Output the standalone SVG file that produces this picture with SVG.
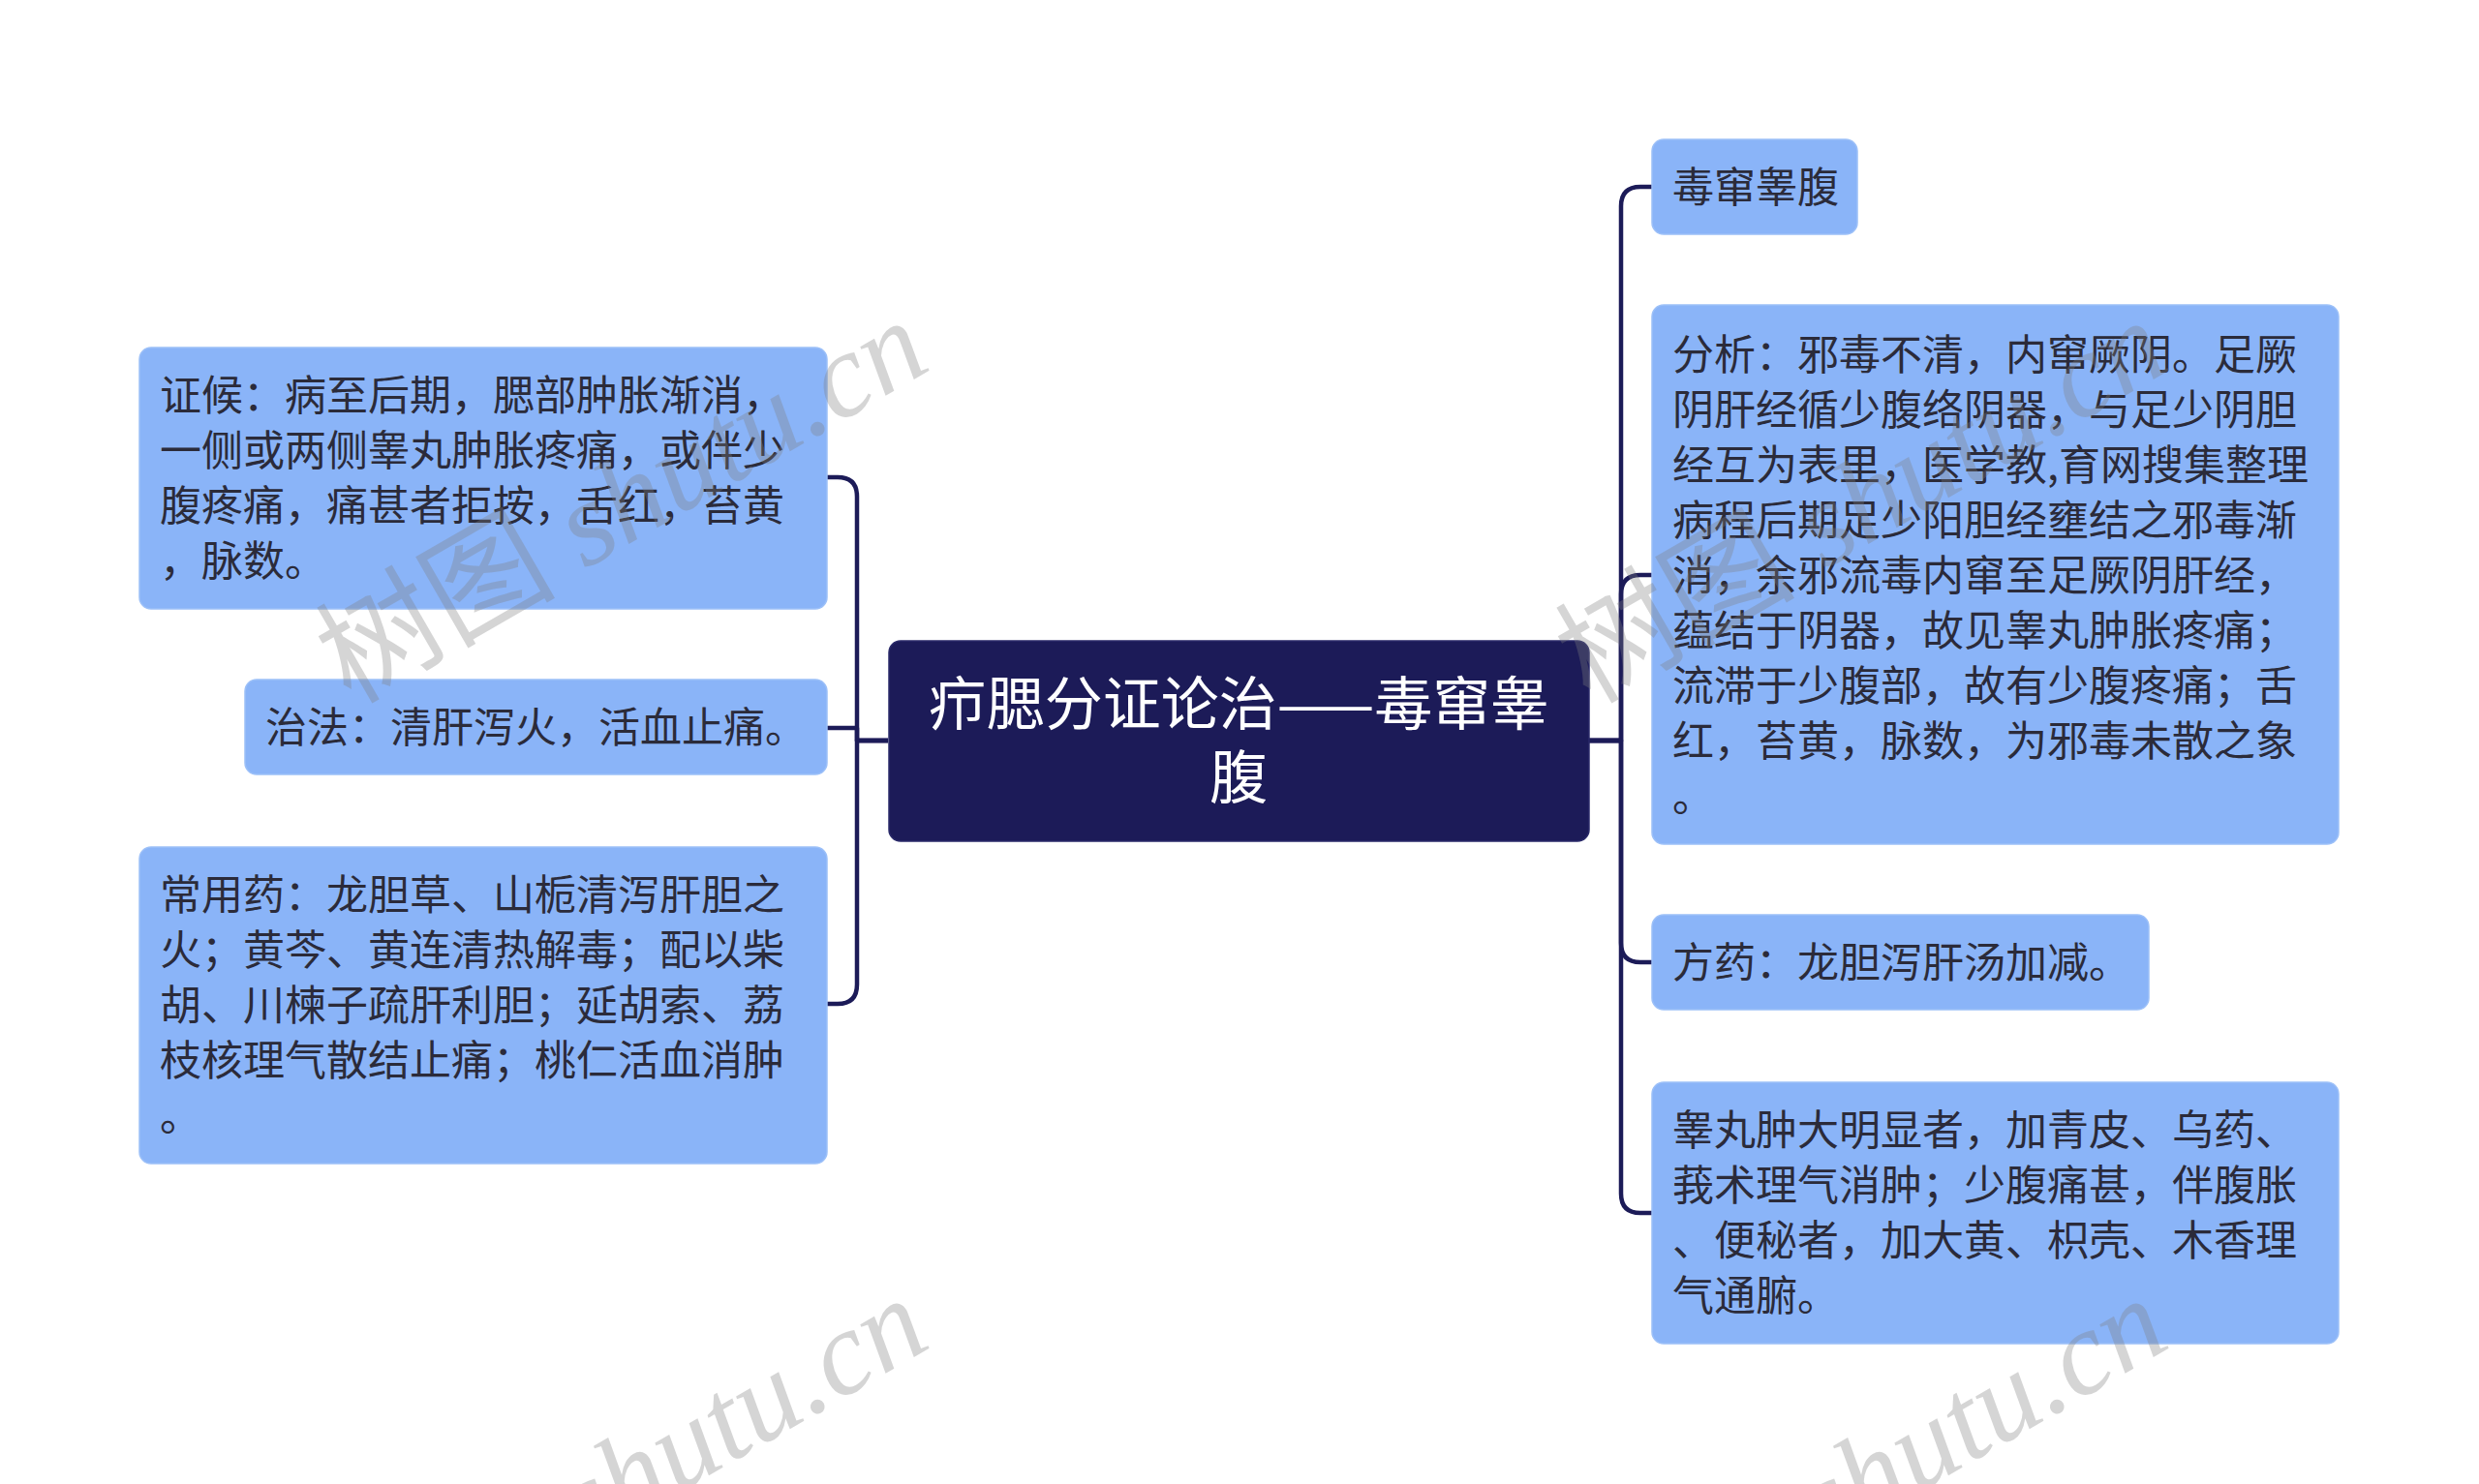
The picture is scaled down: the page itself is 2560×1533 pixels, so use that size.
<svg xmlns="http://www.w3.org/2000/svg" width="2560" height="1533" viewBox="0 0 2560 1533">
<defs>
<style>
.bg{fill:#ffffff}
.node rect{fill:#8ab4f8;stroke:#9cc0f8;stroke-width:1.5}
.node text{font-family:"Noto Sans CJK SC","Noto Sans",sans-serif;font-size:43px;fill:#2b2b3a}
.root rect{fill:#1c1b58;stroke:#2a2a6a;stroke-width:1.5}
.root text{font-family:"Noto Sans CJK SC","Noto Sans",sans-serif;font-size:60px;fill:#ffffff;text-anchor:middle}
.conn path{fill:none;stroke:#1c1b58;stroke-width:4.5;stroke-linejoin:round}
.wm{font-family:"Liberation Serif","Noto Sans CJK SC",serif;font-size:124px;fill:#808080;fill-opacity:0.33}
.wm tspan.lat{font-style:italic}
</style>
</defs>
<rect class="bg" x="0" y="0" width="2560" height="1533"/>

<g id="connectors" class="conn">
<path d="M917,765 H885 V513 Q885,493 865,493 H854"/>
<path d="M917,765 H885 V752 H854"/>
<path d="M917,765 H885 V1017 Q885,1037 865,1037 H854"/>
<path d="M1641,765 H1674 V213 Q1674,193 1694,193 H1706"/>
<path d="M1641,765 H1674 V614 Q1674,594 1694,594 H1706"/>
<path d="M1641,765 H1674 V974 Q1674,994 1694,994 H1706"/>
<path d="M1641,765 H1674 V1233 Q1674,1253 1694,1253 H1706"/>
</g>

<g id="root" class="root">
<rect x="918" y="662" width="723" height="207" rx="12"/>
<text x="1279" y="749">疖腮分证论治——毒窜睾</text>
<text x="1279" y="825">腹</text>
</g>

<g id="node-zhenghou" class="node">
<rect x="144" y="359" width="710" height="270" rx="12"/>
<text x="165" y="424">证候：病至后期，腮部肿胀渐消，</text>
<text x="165" y="481">一侧或两侧睾丸肿胀疼痛，或伴少</text>
<text x="165" y="538">腹疼痛，痛甚者拒按，舌红，苔黄</text>
<text x="165" y="595">，脉数。</text>
</g>

<g id="node-zhifa" class="node">
<rect x="253" y="702" width="601" height="98" rx="12"/>
<text x="274" y="767">治法：清肝泻火，活血止痛。</text>
</g>

<g id="node-changyongyao" class="node">
<rect x="144" y="875" width="710" height="327" rx="12"/>
<text x="165" y="940">常用药：龙胆草、山栀清泻肝胆之</text>
<text x="165" y="997">火；黄芩、黄连清热解毒；配以柴</text>
<text x="165" y="1054">胡、川楝子疏肝利胆；延胡索、荔</text>
<text x="165" y="1111">枝核理气散结止痛；桃仁活血消肿</text>
<text x="165" y="1168">。</text>
</g>

<g id="node-ducuangaofu" class="node">
<rect x="1706" y="144" width="212" height="98" rx="12"/>
<text x="1727" y="209">毒窜睾腹</text>
</g>

<g id="node-fenxi" class="node">
<rect x="1706" y="315" width="709" height="557" rx="12"/>
<text x="1727" y="382">分析：邪毒不清，内窜厥阴。足厥</text>
<text x="1727" y="439">阴肝经循少腹络阴器，与足少阴胆</text>
<text x="1727" y="496">经互为表里，医学教,育网搜集整理</text>
<text x="1727" y="553">病程后期足少阳胆经壅结之邪毒渐</text>
<text x="1727" y="610">消，余邪流毒内窜至足厥阴肝经，</text>
<text x="1727" y="667">蕴结于阴器，故见睾丸肿胀疼痛；</text>
<text x="1727" y="724">流滞于少腹部，故有少腹疼痛；舌</text>
<text x="1727" y="781">红，苔黄，脉数，为邪毒未散之象</text>
<text x="1727" y="838">。</text>
</g>

<g id="node-fangyao" class="node">
<rect x="1706" y="945" width="513" height="98" rx="12"/>
<text x="1727" y="1010">方药：龙胆泻肝汤加减。</text>
</g>

<g id="node-jiajian" class="node">
<rect x="1706" y="1118" width="709" height="270" rx="12"/>
<text x="1727" y="1183">睾丸肿大明显者，加青皮、乌药、</text>
<text x="1727" y="1240">莪术理气消肿；少腹痛甚，伴腹胀</text>
<text x="1727" y="1297">、便秘者，加大黄、枳壳、木香理</text>
<text x="1727" y="1354">气通腑。</text>
</g>

<g id="watermarks">
<text class="wm" transform="translate(362,728) rotate(-30)">树图 <tspan class="lat">shutu.cn</tspan></text>
<text class="wm" transform="translate(1642,728) rotate(-30)">树图 <tspan class="lat">shutu.cn</tspan></text>
<text class="wm" transform="translate(362,1738) rotate(-30)">树图 <tspan class="lat">shutu.cn</tspan></text>
<text class="wm" transform="translate(1642,1738) rotate(-30)">树图 <tspan class="lat">shutu.cn</tspan></text>
</g>
</svg>
